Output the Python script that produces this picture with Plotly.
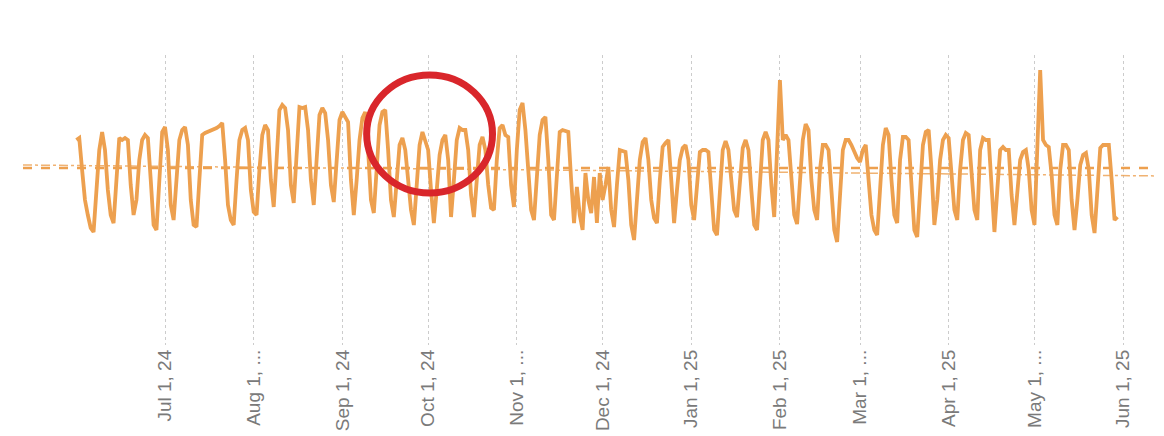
import pandas as pd
import plotly.graph_objects as go

# Daily values, starting 2024-05-31
start_date = "2024-05-31"
values = [
    205, 207, 175, 145, 130, 117, 113, 155, 195, 213,
    195, 155, 130, 122, 170, 207, 205, 207, 205, 160,
    130, 145, 185, 205, 210, 207, 165, 120, 115, 170,
    213, 218, 195, 140, 125, 165, 205, 215, 218, 200,
    145, 120, 118, 165, 210, 212, 213, 214, 215, 217,
    219, 222, 185, 140, 125, 120, 165, 205, 215, 217,
    205, 155, 133, 130, 175, 210, 220, 215, 165, 138,
    185, 235, 240, 237, 215, 160, 142, 195, 238, 237,
    238, 215, 165, 140, 185, 230, 237, 232, 205, 160,
    143, 185, 225, 233, 227, 223, 165, 130, 165, 205,
    227, 233, 195, 145, 132, 175, 220, 233, 235, 195,
    145, 128, 165, 200, 207, 195, 165, 135, 120, 160,
    200, 213, 205, 195, 155, 122, 155, 190, 205, 210,
    185, 128, 165, 205, 217, 215, 215, 195, 150, 128,
    165, 200, 208, 195, 160, 137, 135, 185, 217, 220,
    210, 208, 160, 138, 195, 235, 242, 215, 175, 135,
    125, 165, 210, 225, 228, 185, 130, 125, 175, 213,
    215, 214, 213, 165, 122, 158, 130, 115, 172, 145,
    132, 168, 122, 172, 145, 160, 178, 135, 118, 160,
    195, 194, 193, 165, 120, 105, 145, 185, 203, 207,
    185, 145, 127, 122, 165, 198, 202, 205, 165, 122,
    155, 185, 197, 200, 185, 140, 125, 165, 193, 195,
    195, 193, 150, 115, 110, 155, 195, 204, 195, 165,
    135, 128, 165, 197, 205, 195, 155, 120, 115, 165,
    205, 213, 205, 160, 128, 195, 265, 205, 210, 205,
    170, 130, 121, 165, 205, 221, 215, 165, 135, 125,
    175, 200, 200, 195, 155, 115, 103, 155, 195, 205,
    205, 200, 193, 187, 183, 195, 200, 170, 130, 115,
    110, 155, 200, 217, 210, 165, 130, 122, 185, 208,
    208, 205, 155, 115, 108, 155, 200, 213, 215, 175,
    120, 145, 185, 205, 210, 207, 175, 135, 125, 175,
    205, 212, 210, 170, 135, 125, 195, 207, 205, 205,
    155, 113, 155, 195, 198, 195, 195, 150, 120, 155,
    185, 193, 195, 175, 135, 120, 195, 275, 205, 200,
    198, 170, 130, 120, 175, 200, 200, 195, 145, 115,
    145, 180, 190, 192, 175, 130, 112, 160, 197, 200,
    200, 200, 165, 125, 128,
]

tick_dates = ["2024-07-01", "2024-08-01", "2024-09-01", "2024-10-01",
              "2024-11-01", "2024-12-01", "2025-01-01", "2025-02-01",
              "2025-03-01", "2025-04-01", "2025-05-01", "2025-06-01"]
tick_labels = ["Jul 1, 24", "Aug 1, ...", "Sep 1, 24", "Oct 1, 24",
               "Nov 1, ...", "Dec 1, 24", "Jan 1, 25", "Feb 1, 25",
               "Mar 1, ...", "Apr 1, 25", "May 1, ...", "Jun 1, 25"]

x_range = ["2024-05-12 08:00", "2025-06-15 07:00"]
average_value = 177
trend_values = [180, 169]

circle_dates = ["2024-09-09 12:00", "2024-10-23 12:00"]
circle_values = [152, 270]

dates = pd.date_range(start_date, periods=len(values), freq="D")

orange = "#EDA04F"

fig = go.Figure()
fig.add_trace(go.Scatter(x=x_range, y=[average_value, average_value], mode="lines",
                         line=dict(color=orange, width=2.5, dash="dash"),
                         hoverinfo="skip", showlegend=False))
fig.add_trace(go.Scatter(x=x_range, y=trend_values, mode="lines",
                         line=dict(color=orange, width=1.5, dash="dashdot"),
                         opacity=0.8, hoverinfo="skip", showlegend=False))
fig.add_trace(go.Scatter(x=dates, y=values, mode="lines",
                         line=dict(color=orange, width=3.8),
                         showlegend=False))

fig.add_shape(type="circle", xref="x", yref="y",
              x0=circle_dates[0], x1=circle_dates[1],
              y0=circle_values[0], y1=circle_values[1],
              line=dict(color="#D9262B", width=7))

# page body has an 8px margin; size the figure to fill the rest of the window
fig.update_layout(
    width=1156, height=428,
    margin=dict(l=15, r=0, t=47, b=91),
    paper_bgcolor="white", plot_bgcolor="white",
    font=dict(family="Liberation Sans, Arial, sans-serif"),
)
fig.update_xaxes(type="date", range=x_range,
                 tickvals=tick_dates, ticktext=tick_labels, tickangle=-90,
                 tickfont=dict(size=19, color="#7a7a7a"),
                 showgrid=True, gridcolor="#cccccc", gridwidth=1, griddash="dot",
                 showline=False, zeroline=False, ticks="")
fig.update_yaxes(range=[0, 290], showticklabels=False, showgrid=False,
                 zeroline=False, showline=False)

fig.write_html("out.html")
